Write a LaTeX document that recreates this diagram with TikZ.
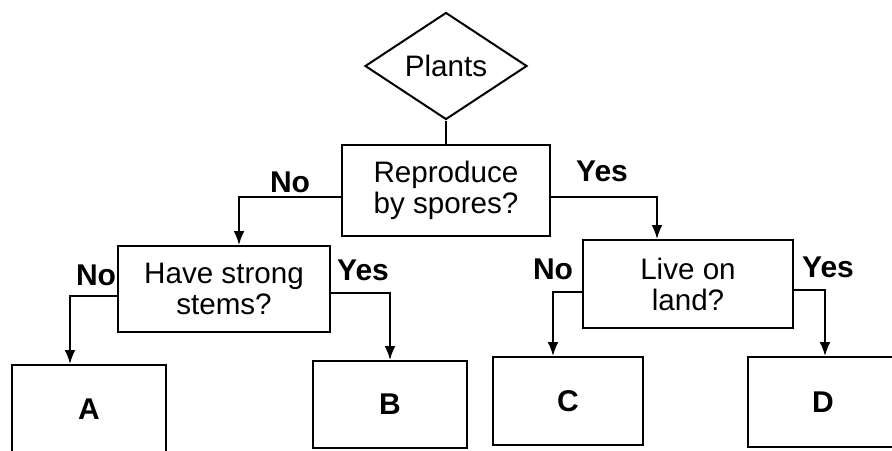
\documentclass[tikz,border=0pt]{standalone}
\usepackage{fontspec}
\setmainfont{Liberation Sans}
\usetikzlibrary{shapes.geometric,arrows.meta}

\tikzset{
    keybox/.style={draw,line width=1pt,rectangle,align=center,inner sep=0pt,
        font=\fontsize{14.8}{15.5}\selectfont},
    endbox/.style={keybox,font=\fontsize{15}{16}\selectfont\bfseries},
    answer/.style={font=\fontsize{15}{16}\selectfont\bfseries,inner sep=0pt},
    arrow/.style={line width=1pt,-{Latex[length=7pt,width=5.5pt]}}
}

\begin{document}
\begin{tikzpicture}[x=0.5pt,y=-0.5pt]

% Page background
\fill[white] (0,0) rectangle (892,450);
\useasboundingbox (0,0) rectangle (892,450);
\clip (0,0) rectangle (892,450);

% =====================================================
% TOP OF THE KEY
% =====================================================
\node[draw,line width=1pt,diamond,inner sep=0pt,
      minimum width=81pt,minimum height=53.5pt,
      font=\fontsize{14.8}{15.5}\selectfont] (plants) at (446,66) {Plants};

\node[keybox,minimum width=104pt,minimum height=45.5pt] (spores) at (446,190.5)
    {Reproduce\\by spores?};

\draw[line width=1pt] (plants.south) -- (spores.north);

% =====================================================
% SECOND LEVEL
% =====================================================
\node[keybox,minimum width=106pt,minimum height=43pt] (stems) at (224,289)
    {Have strong\\stems?};
\node[keybox,minimum width=105pt,minimum height=44pt] (land) at (688,284)
    {Live on\\land?};

\draw[arrow] (spores.west |- 0,197) -| (stems.north -| 239,0);
\draw[arrow] (spores.east |- 0,197) -| (land.north -| 657,0);

\node[answer] (no1) at (290,182) {No};
\node[answer] (yes1) at (602,171) {Yes};

% =====================================================
% GROUPS A TO D
% =====================================================
\node[endbox,minimum width=77pt,minimum height=44pt] (A) at (89,409) {A};
\node[endbox,minimum width=77pt,minimum height=43.5pt] (B) at (390,404.5) {B};
\node[endbox,minimum width=75pt,minimum height=44pt] (C) at (568,401) {C};
\node[endbox,minimum width=75pt,minimum height=45pt] (D) at (823,402) {D};

\draw[arrow] (stems.west |- 0,296) -| (A.north -| 70,0);
\draw[arrow] (stems.east |- 0,293) -| (B.north -| 390,0);
\draw[arrow] (land.west |- 0,292) -| (C.north -| 553,0);
\draw[arrow] (land.east |- 0,290) -| (D.north -| 825,0);

\node[answer] (no2) at (96,275) {No};
\node[answer] (yes2) at (363,270) {Yes};
\node[answer] (no3) at (553,269) {No};
\node[answer] (yes3) at (828,267) {Yes};

\end{tikzpicture}
\end{document}
